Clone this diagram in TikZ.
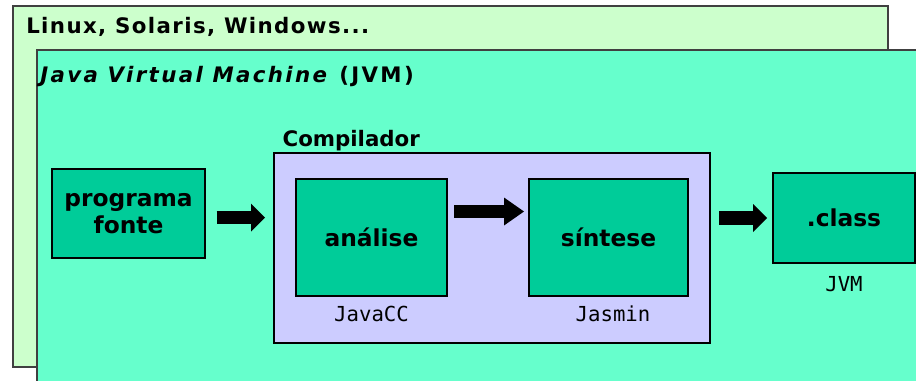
\documentclass[tikz,border=0pt]{standalone}
\usepackage{fontspec}
\setmainfont{DejaVu Sans}
\setmonofont{DejaVu Sans Mono}
\usetikzlibrary{arrows.meta,positioning}
\definecolor{osgreen}{RGB}{204,255,204}
\definecolor{jvmgreen}{RGB}{102,255,204}
\definecolor{complilac}{RGB}{204,204,255}
\definecolor{stagegreen}{RGB}{0,204,153}

\begin{document}
\begin{tikzpicture}[x=0.75pt, y=-0.75pt,
    panel/.style={draw=black!75, line width=1.5pt, inner sep=0pt},
    stage/.style={draw=black, line width=1.5pt, fill=stagegreen, inner sep=0pt,
        align=center, font=\fontsize{17.5}{20}\selectfont\bfseries},
    tool/.style={inner sep=0pt, font=\fontsize{15.5}{18}\selectfont\ttfamily},
    heading/.style={inner sep=0pt, anchor=base west, font=\fontsize{16}{19}\selectfont\bfseries},
    bigarrow/.style={line width=10pt, -{Triangle[width=21pt, length=10.5pt, line width=0pt]}}
]
\useasboundingbox (0,0) rectangle (916,380);
\clip (0,0) rectangle (916,380);

% === Operating system layer ===
\node[panel, fill=osgreen, minimum width=656.25pt, minimum height=270.75pt] (os) at (450.5,186.5) {};
\node[heading] (ostitle) at (26,33) {\addfontfeature{LetterSpace=6.5}Linux, Solaris, Windows...};

% === JVM layer ===
\draw[panel, fill=jvmgreen] (37,50) rectangle (940,400);
\node[heading] (jvmtitle) at (40,82) {\addfontfeature{LetterSpace=11}\textit{Java Virtual Machine} (JVM)};

% === Compiler ===
\node[panel, draw=black, fill=complilac, minimum width=327pt, minimum height=142.5pt] (comp) at (492,248) {};
\node[heading] (comptitle) at ([xshift=7pt, yshift=4.5pt]comp.north west) {Compilador};

% stages
\node[stage, minimum width=114.75pt, minimum height=66.75pt] (prog) at (128.5,213.5) {programa\\fonte};
\node[stage, minimum width=113.25pt, minimum height=87.75pt] (ana) at (371.5,237.5) {análise};
\node[stage, minimum width=119.25pt, minimum height=87.75pt] (sin) at (608.5,237.5) {síntese};
\node[stage, minimum width=106.5pt, minimum height=67.5pt] (cls) at (844,218) {.class};

% tools below the stages
\node[tool, below=6.75pt of ana] (javacc) {JavaCC};
\node[tool, below=6.75pt of sin, xshift=3.4pt] (jasmin) {Jasmin};
\node[tool, below=9pt of cls] (jvmrun) {JVM};

% arrows
\coordinate (progout) at ([yshift=-3pt]prog.east);
\draw[bigarrow, shorten <=8pt, shorten >=6pt] (progout) -- (progout -| comp.west);
\draw[bigarrow, shorten <=4.5pt, shorten >=3pt, -{Triangle[width=21pt, length=15pt, line width=0pt]}]
    ([yshift=19.5pt]ana.east) -- ([yshift=19.5pt]sin.west);
\draw[bigarrow, shorten <=6pt, shorten >=3.75pt] (comp.east |- cls.west) -- (cls.west);

\end{tikzpicture}
\end{document}
